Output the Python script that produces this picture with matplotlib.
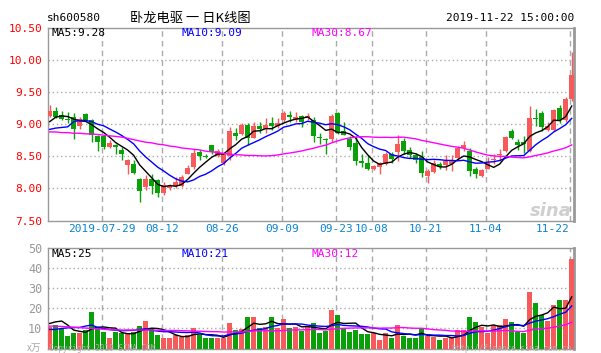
import numpy as np
import pandas as pd
import matplotlib
matplotlib.use("Agg")
import matplotlib.pyplot as plt

# ---------------- data ----------------
holidays = ["2019-09-13", "2019-10-01", "2019-10-02", "2019-10-03", "2019-10-04", "2019-10-07"]
dates = [d for d in pd.bdate_range("2019-07-16", "2019-11-22") if d.strftime("%Y-%m-%d") not in holidays]

opens = [9.13, 9.21, 9.15, 9.08, 9.12, 8.97, 9.16, 9.06, 8.82, 8.81,
         8.64, 8.67, 8.60, 8.36, 8.38, 8.15, 8.02, 8.15, 8.125, 7.93,
         8.00, 8.03, 8.03, 8.23, 8.34, 8.56, 8.50, 8.67, 8.51, 8.40,
         8.505, 8.87, 8.85, 8.99, 8.79, 8.97, 8.92, 9.02, 8.97, 9.07,
         9.15, 9.07, 9.135, 9.09, 9.07, 8.79, 8.76, 8.77, 9.18, 8.90,
         8.77, 8.71, 8.43, 8.40, 8.30, 8.34, 8.38, 8.54, 8.56, 8.74,
         8.60, 8.52, 8.49, 8.20, 8.26, 8.375, 8.36, 8.385, 8.48, 8.635,
         8.59, 8.31, 8.19, 8.31, 8.45, 8.52, 8.59, 8.89, 8.72, 8.71,
         8.59, 9.09, 9.17, 8.91, 8.91, 9.26, 9.06, 9.40]
highs = [9.30, 9.27, 9.21, 9.19, 9.17, 9.11, 9.18, 9.08, 8.84, 8.83,
         8.75, 8.69, 8.64, 8.46, 8.45, 8.17, 8.21, 8.23, 8.14, 8.10,
         8.07, 8.18, 8.21, 8.36, 8.61, 8.60, 8.54, 8.68, 8.61, 8.57,
         8.96, 8.94, 9.02, 9.02, 9.04, 9.03, 9.10, 9.12, 9.10, 9.21,
         9.20, 9.19, 9.15, 9.18, 9.11, 8.87, 8.78, 9.16, 9.19, 9.04,
         8.81, 8.81, 8.54, 8.52, 8.36, 8.41, 8.56, 8.57, 8.83, 8.79,
         8.65, 8.55, 8.59, 8.31, 8.45, 8.41, 8.52, 8.52, 8.66, 8.74,
         8.63, 8.34, 8.31, 8.49, 8.53, 8.61, 8.82, 8.92, 8.77, 8.82,
         9.28, 9.23, 9.20, 9.04, 9.24, 9.30, 9.43, 10.13]
lows = [9.11, 9.10, 9.07, 9.02, 8.77, 8.93, 9.05, 8.73, 8.59, 8.62,
        8.63, 8.54, 8.45, 8.22, 8.22, 7.79, 7.97, 7.92, 7.87, 7.90,
        7.98, 8.01, 8.02, 8.22, 8.31, 8.44, 8.47, 8.54, 8.49, 8.37,
        8.44, 8.75, 8.84, 8.68, 8.79, 8.86, 8.86, 8.91, 8.94, 9.04,
        9.04, 9.04, 8.95, 9.06, 8.73, 8.70, 8.54, 8.73, 8.85, 8.83,
        8.60, 8.37, 8.33, 8.29, 8.29, 8.23, 8.37, 8.39, 8.42, 8.54,
        8.47, 8.39, 8.18, 8.08, 8.24, 8.30, 8.28, 8.27, 8.45, 8.59,
        8.20, 8.17, 8.18, 8.30, 8.38, 8.42, 8.57, 8.77, 8.60, 8.55,
        8.57, 8.97, 8.89, 8.89, 8.89, 9.02, 9.04, 9.36]
closes = [9.21, 9.12, 9.08, 9.06, 8.93, 9.08, 9.07, 8.83, 8.73, 8.65,
          8.71, 8.65, 8.54, 8.44, 8.24, 7.96, 8.15, 8.04, 7.93, 8.06,
          8.04, 8.10, 8.18, 8.32, 8.55, 8.50, 8.495, 8.56, 8.58, 8.55,
          8.90, 8.82, 8.99, 8.78, 8.97, 8.93, 8.99, 8.98, 9.02, 9.17,
          9.11, 9.12, 9.04, 9.135, 8.82, 8.78, 8.75, 9.135, 8.87, 8.84,
          8.65, 8.43, 8.39, 8.31, 8.35, 8.39, 8.54, 8.46, 8.69, 8.59,
          8.52, 8.44, 8.24, 8.27, 8.39, 8.34, 8.43, 8.45, 8.635, 8.67,
          8.27, 8.23, 8.28, 8.40, 8.46, 8.53, 8.80, 8.78, 8.67, 8.70,
          9.10, 9.08, 8.95, 8.97, 9.22, 9.06, 9.40, 9.77]
volumes = [10.5, 11.7, 10.0, 6.2, 7.5, 7.5, 9.2, 18.3, 10.5, 8.3,
           5.3, 8.3, 7.5, 7.5, 8.3, 11.2, 13.7, 10.0, 6.7, 5.3,
           5.3, 6.7, 5.8, 6.7, 10.3, 6.7, 5.3, 5.3, 5.3, 5.3,
           12.8, 9.2, 9.5, 15.8, 15.8, 10.0, 10.5, 15.8, 10.0, 14.7,
           10.0, 10.5, 8.8, 10.8, 12.8, 7.8, 8.8, 19.2, 16.7, 10.0,
           8.3, 9.2, 7.2, 7.2, 7.5, 4.2, 7.5, 5.3, 11.7, 6.2,
           5.3, 5.3, 9.7, 6.2, 5.5, 4.2, 5.3, 5.3, 9.2, 9.2,
           15.8, 13.3, 10.5, 7.5, 11.7, 11.7, 14.7, 13.3, 8.3, 7.5,
           28.3, 22.8, 16.7, 13.8, 21.7, 24.2, 24.2, 44.8]

# moving-average values at the left edge (before enough bars exist)
ma5_lead = [9.04, 9.11, 9.13, 9.12]
ma10_lead = [8.92, 8.94, 8.95, 8.96, 9.04, 9.06, 9.06, 9.04, 9.00]
ma30_lead = [8.88, 8.88, 8.87, 8.87, 8.86, 8.86, 8.85, 8.85, 8.84, 8.83,
             8.82, 8.81, 8.80, 8.78, 8.76, 8.74, 8.72, 8.71, 8.69, 8.68,
             8.66, 8.65, 8.63, 8.62, 8.61, 8.60, 8.58, 8.57, 8.56]
vma5_lead = [12.5, 13.3, 13.7, 11.7]
vma10_lead = [9.5, 9.5, 10.0, 10.3, 10.5, 10.5, 11.2, 11.7, 10.5]
vma30_lead = [11.2, 11.1, 11.0, 10.8, 10.6, 10.4, 10.2, 10.0, 9.8, 9.6,
              9.4, 9.3, 9.2, 9.2, 9.2, 9.2, 9.2, 9.2, 9.1, 9.0,
              9.0, 9.0, 8.9, 8.8, 8.7, 8.6, 8.5, 8.4, 8.4]

price_ma_labels = ["MA5:9.28", "MA10:9.09", "MA30:8.67"]
vol_ma_labels = ["MA5:25", "MA10:21", "MA30:12"]
price_ticks = [7.50, 8.00, 8.50, 9.00, 9.50, 10.00, 10.50]
vol_ticks = [10, 20, 30, 40, 50]
tick_dates = ["2019-07-29", "2019-08-12", "2019-08-26", "2019-09-09", "2019-09-23",
              "2019-10-08", "2019-10-21", "2019-11-04", "2019-11-22"]
title = "卧龙电驱 一 日K线图"
code = "sh600580"
stamp = "2019-11-22 15:00:00"

# ---------------- helpers ----------------
def with_lead(series, n, lead):
    s = pd.Series(series).rolling(n).mean().to_numpy()
    s[:len(lead)] = lead
    return s

W, H = 601, 353
RED, GREEN = "#f65a5a", "#0aa00a"
GRIDC = "#aaaaaa"
MONO = "DejaVu Sans Mono"
ma_colors = ["#000000", "#0000ff", "#ff00ff"]

def rect(l, t, r, b):
    return [l / W, 1 - b / H, (r - l) / W, (b - t) / H]

fig = plt.figure(figsize=(W / 100, H / 100), dpi=100)
fig.patch.set_facecolor("white")
ax = fig.add_axes(rect(47.7, 28, 574, 220.5))
axv = fig.add_axes(rect(47.7, 248.3, 574, 348.5))

n = len(closes)
x = np.arange(n)
o = np.array(opens); c = np.array(closes); h = np.array(highs); l = np.array(lows)
up = c >= o
cols = np.where(up, RED, GREEN)
date_str = [d.strftime("%Y-%m-%d") for d in dates]
tick_idx = [date_str.index(d) for d in tick_dates]
grid_x = [i - 0.33 for i in tick_idx]
xlim = (-0.33, n - 1 + 0.38)

# candles
ax.vlines(x, l, h, colors=cols, linewidth=1.0, zorder=3)
body_b = np.minimum(o, c)
body_h = np.maximum(np.abs(c - o), 0.016)
ax.bar(x, body_h, bottom=body_b, width=0.78, color=cols, linewidth=0, zorder=4)

for s, nn, lead, col in zip([closes] * 3, [5, 10, 30], [ma5_lead, ma10_lead, ma30_lead], ma_colors):
    ax.plot(x, with_lead(s, nn, lead), color=col, linewidth=1.0, zorder=5)

ax.set_xlim(*xlim)
ax.set_ylim(7.5, 10.5)
ax.set_yticks(price_ticks)
ax.set_yticklabels([f"{v:.2f}" for v in price_ticks])
for yv in price_ticks[1:-1]:
    ax.axhline(yv, color=GRIDC, linestyle=(0, (1, 2)), linewidth=1.0, zorder=1)
for gx in grid_x:
    ax.axvline(gx, color=GRIDC, linestyle=(0, (4, 3)), linewidth=1.0, zorder=1)
ax.set_xticks([])
ax.tick_params(axis="y", length=0, pad=4, labelsize=8, labelcolor="#ff0000")
for t in ax.get_yticklabels():
    t.set_family(MONO)

# volume
axv.bar(x, volumes, width=0.78, color=cols, linewidth=0, zorder=3)
for nn, lead, col in zip([5, 10, 30], [vma5_lead, vma10_lead, vma30_lead], ma_colors):
    axv.plot(x, with_lead(volumes, nn, lead), color=col, linewidth=1.0, zorder=5)
axv.set_xlim(*xlim)
axv.set_ylim(0, 50)
axv.set_yticks(vol_ticks)
axv.set_yticklabels([str(v) for v in vol_ticks])
for yv in vol_ticks[:-1]:
    axv.axhline(yv, color=GRIDC, linestyle=(0, (1, 2)), linewidth=1.0, zorder=1)
for gx in grid_x:
    axv.axvline(gx, color=GRIDC, linestyle=(0, (4, 3)), linewidth=1.0, zorder=1)
axv.set_xticks([])
axv.tick_params(axis="y", length=0, pad=4, labelsize=8.5, labelcolor="#999999")
for t in axv.get_yticklabels():
    t.set_family(MONO)

for a in (ax, axv):
    for sp in a.spines.values():
        sp.set_color("#999999")
        sp.set_linewidth(1.0)
    a.spines["right"].set_linewidth(2.0)
    a.set_facecolor("white")

def ftext(px, py, s, **kw):
    fig.text(px / W, 1 - py / H, s, **kw)

# date labels
for k, (gx, d) in enumerate(zip(grid_x, tick_dates)):
    lab = d if k == 0 else d[5:]
    ha = "right" if k == len(tick_dates) - 1 else "center"
    ax.text(gx, 0, lab, transform=ax.get_xaxis_transform(), ha=ha, va="center",
            fontsize=8, family=MONO, color="#0a84d0")
    ax.texts[-1].set_y(-0.045)

ftext(46.5, 21, code, ha="left", va="baseline", fontsize=8, family=MONO, color="black")
ftext(190, 22, title, ha="center", va="baseline", fontsize=9.5,
      family=["Noto Sans CJK SC", "DejaVu Sans"], color="black")
ftext(574.5, 21, stamp, ha="right", va="baseline", fontsize=8, family=MONO, color="black")

for px_, s, col in zip([51.5, 181.5, 311.5], price_ma_labels, ma_colors):
    ftext(px_, 36.5, s, ha="left", va="baseline", fontsize=8, family=MONO, color=col)
for px_, s, col in zip([51.5, 181.5, 311.5], vol_ma_labels, ma_colors):
    ftext(px_, 257, s, ha="left", va="baseline", fontsize=8, family=MONO, color=col)

ftext(27, 352.5, "x万", ha="left", va="bottom", fontsize=7,
      family=["Noto Sans CJK SC", "DejaVu Sans"], color="#aaaaaa")
ftext(49, 352.8, "Copyright 2019 SINA.COM", ha="left", va="bottom", fontsize=5.5,
      family=MONO, color="#b0b0b0")
ftext(572, 352.8, "http://finance.sina.com.cn", ha="right", va="bottom", fontsize=5.5,
      family=MONO, color="#b0b0b0")
ftext(572, 216, "sina", ha="right", va="baseline", fontsize=13, style="italic",
      weight="bold", color="#cfcfcf")

fig.savefig("out.png", dpi=100, facecolor="white")
